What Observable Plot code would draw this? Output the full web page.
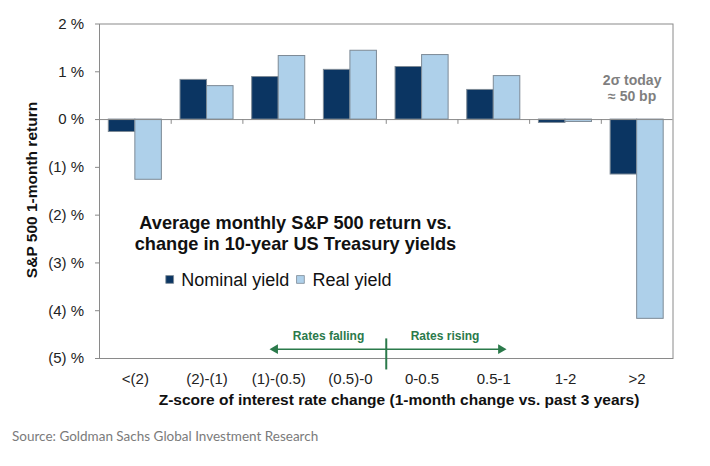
<!DOCTYPE html>
<html><head><meta charset="utf-8">
<script src="https://cdn.jsdelivr.net/npm/d3@7"></script>
<script src="https://cdn.jsdelivr.net/npm/@observablehq/plot@0.6"></script>
<style>body{margin:0;background:#fff} #chart{width:710px;height:466px}</style>
</head><body><div id="chart"></div>
<script>
const categories = ["<(2)", "(2)-(1)", "(1)-(0.5)", "(0.5)-0", "0-0.5", "0.5-1", "1-2", ">2"];
const seriesNames = ["Nominal yield", "Real yield"];
const nominalYield = [-0.26, 0.83, 0.89, 1.04, 1.10, 0.62, -0.07, -1.15];
const realYield = [-1.26, 0.70, 1.33, 1.44, 1.35, 0.91, -0.05, -4.17];
const yTicks = [-5, -4, -3, -2, -1, 0, 1, 2];
const titleLines = ["Average monthly S&P 500 return vs.", "change in 10-year US Treasury yields"];
const noteLines = ["2σ today", "≈ 50 bp"];

const rows = categories.flatMap((c, i) => [
  {cat: c, i, series: seriesNames[0], value: nominalYield[i]},
  {cat: c, i, series: seriesNames[1], value: realYield[i]}
]);
const isNom = d => d.series === seriesNames[0];
const fmt = v => v === 0 ? "0 %" : v < 0 ? `(${-v}) %` : `${v} %`;
const GREEN = "#2b7a4b", GRAY = "#8a8a8a";
const FONT = "'Liberation Sans', Arial, sans-serif";

const chart = Plot.plot({
  width: 710, height: 466,
  marginLeft: 99, marginRight: 37.5, marginTop: 23.5, marginBottom: 108,
  style: {fontFamily: FONT, background: "#fff", color: "#222"},
  x: {type: "linear", domain: [0, categories.length]},
  y: {domain: [-5, 2]},
  color: {domain: seriesNames, range: ["#0b3562", "#aed0ea"]},
  marks: [
    Plot.rectY(rows, {
      x1: d => d.i + (isNom(d) ? 0.13 : 0.5),
      x2: d => d.i + (isNom(d) ? 0.5 : 0.87),
      y: "value", fill: "series", stroke: "#7d8a96", strokeWidth: 1
    }),
    Plot.ruleY([0], {stroke: GRAY}),
    Plot.ruleX(d3.range(1, categories.length), {x: d => d, y1: 0, y2: -0.1, stroke: GRAY}),
    Plot.frame({stroke: GRAY}),
    Plot.axisY({ticks: yTicks, tickFormat: fmt, tickSize: 4, tickPadding: 11.5, fontSize: 15, stroke: GRAY, label: null}),
    Plot.axisX({ticks: categories.map((c, i) => i + 0.5), tickFormat: (v) => categories[Math.floor(v)], tickSize: 0, tickPadding: 14.5, fontSize: 15, label: null}),
    // in-chart title
    Plot.text([titleLines[0]], {x: 2.734, y: -2.16, text: d => d, fontSize: 18.2, fontWeight: "bold", fill: "#111", lineAnchor: "middle"}),
    Plot.text([titleLines[1]], {x: 2.734, y: -2.61, text: d => d, fontSize: 18.2, fontWeight: "bold", fill: "#111", lineAnchor: "middle"}),
    // legend
    Plot.dot(seriesNames, {x: [0.979, 2.803], y: [-3.346, -3.346], symbol: "square", r: 4.4, fill: d => d, stroke: "#7d8a96", strokeWidth: 0.8}),
    Plot.text(seriesNames, {x: [1.139, 2.971], y: [-3.37, -3.37], text: d => d, textAnchor: "start", fontSize: 18, fill: "#111", lineAnchor: "middle"}),
    // 2 sigma note
    Plot.text([noteLines[0]], {x: 7.43, y: 0.818, text: d => d, fontSize: 14, fontWeight: "bold", fill: "#7f7f7f", lineAnchor: "middle"}),
    Plot.text([noteLines[1]], {x: 7.43, y: 0.49, text: d => d, fontSize: 14, fontWeight: "bold", fill: "#7f7f7f", lineAnchor: "middle"}),
    // rates falling / rising annotation
    Plot.ruleX([4], {y1: -4.59, y2: -5.24, stroke: GREEN, strokeWidth: 2}),
    Plot.link([{a: 4, b: 2.45}, {a: 4, b: 5.6}], {x1: "a", x2: "b", y1: -4.805, y2: -4.805, stroke: GREEN, strokeWidth: 1.6}),
    Plot.dot([{x: 2.45, r: -90}, {x: 5.6, r: 90}], {x: "x", y: -4.805, rotate: "r", symbol: "triangle", r: 3.6, fill: GREEN}),
    Plot.text(["Rates falling", "Rates rising"], {x: [3.195, 4.82], y: [-4.53, -4.53], text: d => d, fontSize: 12, fontWeight: "bold", fill: GREEN, lineAnchor: "middle"})
  ]
});
document.getElementById("chart").appendChild(chart);

const svg = d3.select(chart);
svg.append("text")
  .attr("transform", "translate(37,190) rotate(-90)")
  .attr("text-anchor", "middle")
  .style("font", `bold 15.5px ${FONT}`).attr("fill", "#111")
  .text("S&P 500 1-month return");
svg.append("text")
  .attr("x", 399).attr("y", 405)
  .attr("text-anchor", "middle")
  .style("font", `bold 15.5px ${FONT}`).attr("fill", "#111")
  .text("Z-score of interest rate change (1-month change vs. past 3 years)");
svg.append("text")
  .attr("x", 12).attr("y", 441.3)
  .attr("text-anchor", "start")
  .style("font", "13.5px Lato, 'Open Sans', sans-serif").attr("fill", "#7b7b7b")
  .text("Source: Goldman Sachs Global Investment Research");
</script>
</body></html>
